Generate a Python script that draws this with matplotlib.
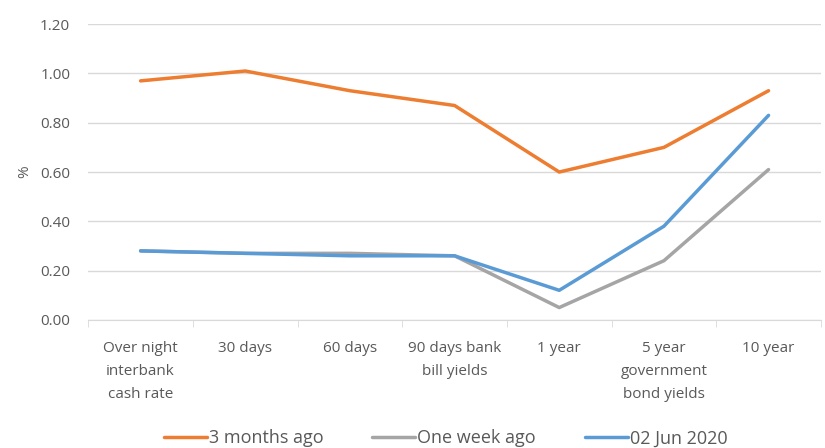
import numpy as np
import matplotlib
matplotlib.use('Agg')
from matplotlib import pyplot as plt

categories = ['Over night\ninterbank\ncash rate', '30 days', '60 days', '90 days bank\nbill yields',
              '1 year', '5 year\ngovernment\nbond yields', '10 year']
three_months = [0.97, 1.01, 0.93, 0.87, 0.60, 0.70, 0.93]
one_week = [0.28, 0.27, 0.27, 0.26, 0.05, 0.24, 0.61]
jun_2020 = [0.28, 0.27, 0.26, 0.26, 0.12, 0.38, 0.83]
y_ticks = [0.0, 0.2, 0.4, 0.6, 0.8, 1.0, 1.2]


def main():
	plt.rcParams['font.family'] = ['Open Sans', 'DejaVu Sans']
	txt = '#595959'
	fig = plt.figure(figsize=(8.25, 4.48), dpi=100)
	ax = fig.add_axes([0.107, 0.286, 0.888, 0.66])
	x = np.arange(len(categories))
	ax.plot(x, three_months, color='#ED7D31', lw=2.5, label='3 months ago', solid_capstyle='round')
	ax.plot(x, one_week, color='#A5A5A5', lw=2.5, label='One week ago', solid_capstyle='round')
	ax.plot(x, jun_2020, color='#5B9BD5', lw=2.5, label='02 Jun 2020', solid_capstyle='round')

	ax.set_xlim(-0.5, len(categories) - 0.5)
	ax.set_ylim(0, 1.2)
	ax.set_yticks(y_ticks)
	ax.set_yticklabels(['%.2f' % v for v in y_ticks], color=txt, fontsize=11)
	ax.set_xticks(x)
	ax.set_xticklabels(categories, color=txt, fontsize=11, linespacing=1.72, va='top')
	ax.set_xticks(np.arange(-0.5, len(categories), 1), minor=True)
	ax.tick_params(axis='x', which='major', length=0, pad=15)
	ax.tick_params(axis='x', which='minor', length=5, color='#D9D9D9')
	ax.tick_params(axis='y', length=0, pad=13)
	ax.grid(axis='y', color='#D9D9D9', lw=1)
	ax.set_axisbelow(True)
	for s in ['top', 'right', 'left']:
		ax.spines[s].set_visible(False)
	ax.spines['bottom'].set_color('#D9D9D9')
	ax.set_ylabel('%', color=txt, fontsize=11, labelpad=6)

	fig.legend(loc='lower center', bbox_to_anchor=(0.54, -0.035), ncol=3, frameon=False,
		fontsize=13, labelcolor=txt, handlelength=2.4, handletextpad=0.1, columnspacing=2.7)
	fig.savefig('out.png', dpi=100)
	plt.close()


if __name__ == '__main__':
	main()
